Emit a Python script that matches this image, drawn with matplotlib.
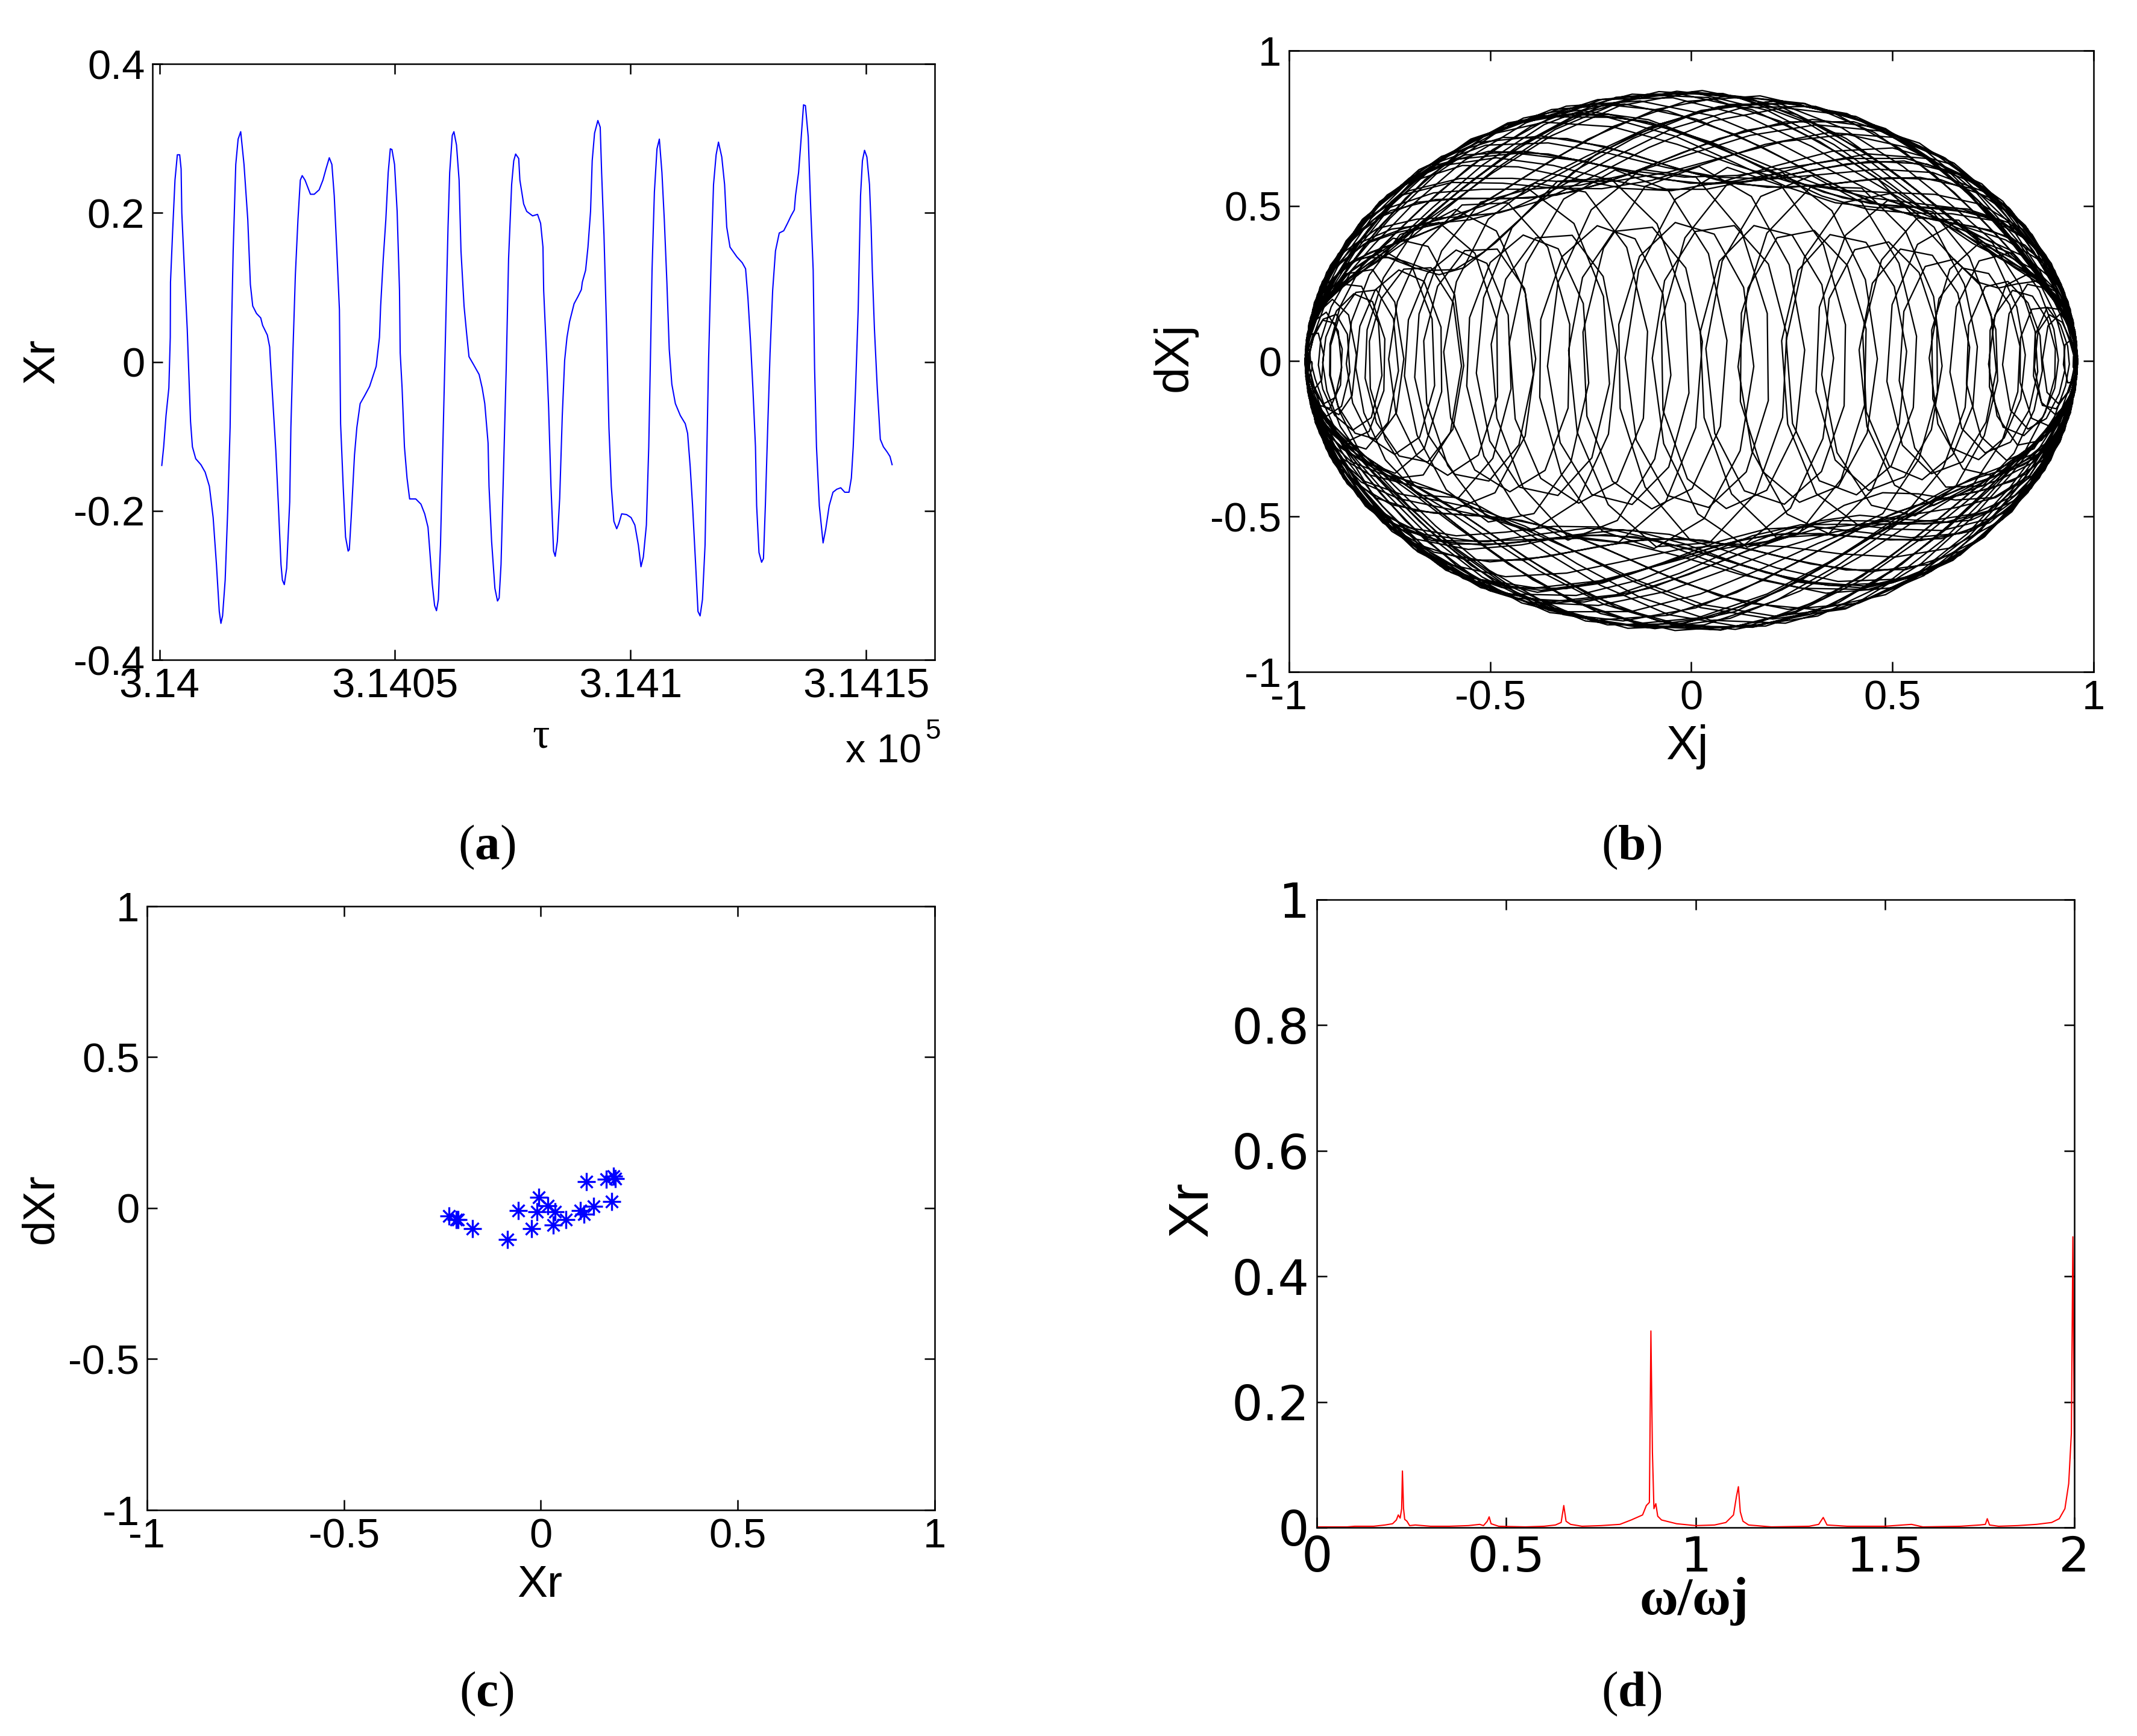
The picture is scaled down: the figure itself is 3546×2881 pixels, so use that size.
import numpy as np
import matplotlib
matplotlib.use('Agg')
import matplotlib.pyplot as plt

plt.rcParams['font.family'] = 'Liberation Sans'
plt.rcParams['mathtext.fontset'] = 'custom'
plt.rcParams['mathtext.rm'] = 'Liberation Serif'
plt.rcParams['mathtext.bf'] = 'Liberation Serif:bold'
plt.rcParams['axes.unicode_minus'] = False

# (a) time series Xr(tau), tau given as offset from 3.14e5
tau_base = 314000
tau_off = [0.5, 0.9, 1.4, 2.0, 2.3, 2.35, 2.8, 3.3, 3.8, 4.3,
           4.6, 4.75, 5.3, 5.9, 6.6, 7.0, 7.7, 8.8, 9.7, 10.6,
           11.4, 12.1, 12.7, 13.05, 13.4, 13.95, 14.5, 15.0, 15.3, 15.65,
           16.2, 16.7, 17.25, 17.95, 18.75, 19.3, 19.8, 20.6, 21.5, 21.9,
           22.9, 23.4, 23.55, 24.1, 24.7, 25.25, 25.8, 26.1, 26.5, 27.0,
           27.65, 27.9, 28.35, 28.85, 29.4, 29.9, 30.3, 30.9, 32.05, 32.85,
           33.9, 34.7, 35.35, 36.05, 36.6, 37.1, 37.65, 38.2, 38.45, 39.0,
           39.5, 40.05, 40.3, 40.7, 41.4, 41.9, 42.6, 43.5, 44.6, 46.0,
           46.7, 46.95, 47.5, 48.05, 48.55, 49.0, 49.35, 49.9, 50.45, 50.95,
           51.1, 51.5, 52.0, 52.55, 53.1, 54.4, 55.5, 56.3, 57.0, 57.35,
           57.9, 58.4, 58.8, 59.2, 59.65, 60.15, 60.7, 61.25, 61.6, 62.15,
           62.5, 63.05, 63.6, 64.0, 64.65, 65.2, 65.7, 66.7, 67.85, 68.5,
           69.05, 69.75, 69.95, 70.5, 71.2, 71.75, 72.1, 72.5, 73.05, 73.6,
           74.1, 74.75, 75.2, 75.6, 76.25, 76.5, 77.3, 77.95, 79.2, 80.25,
           80.9, 81.4, 81.55, 82.1, 82.6, 83.1, 83.65, 84.0, 84.45, 84.95,
           85.5, 86.0, 86.5, 87.05, 88.0, 88.85, 89.55, 89.75, 90.45, 90.95,
           91.5, 91.85, 92.35, 93.05, 93.55, 93.85, 94.35, 94.9, 95.4, 95.9,
           96.45, 97.05, 97.5, 98.1, 99.15, 100.1, 100.9, 101.65, 102.2, 102.7,
           103.35, 103.85, 104.2, 104.55, 105.05, 105.6, 106.1, 106.65, 107.15, 107.7,
           108.2, 108.75, 109.5, 110.55, 111.6, 112.1, 112.65, 113.15, 113.8, 114.3,
           114.75, 115.25, 115.8, 116.2, 116.55, 117.1, 117.6, 118.15, 118.65, 119.35,
           119.95, 120.4, 121.1, 122.55, 123.7, 124.4, 124.9, 125.45, 125.95, 126.5,
           126.75, 127.25, 127.8, 128.2, 128.6, 129.1, 129.6, 130.15, 130.75, 131.55,
           132.5, 133.3, 134.05, 134.75, 135.0, 135.65, 136.15, 136.7, 137.1, 137.7,
           138.25, 138.75, 139.05, 139.45, 140.05, 140.85, 141.4, 142.15, 142.95, 143.75,
           144.6, 145.45, 146.35, 146.85, 147.25, 147.75, 148.3, 148.8, 149.2, 149.65,
           150.15, 150.7, 151.05, 151.3, 151.75, 152.35, 153.0, 153.65, 154.45, 155.05,
           155.5]
xr = [-0.139, -0.114, -0.072, -0.035, 0.033, 0.107, 0.175, 0.244, 0.278, 0.278,
      0.259, 0.2, 0.123, 0.044, -0.08, -0.114, -0.13, -0.138, -0.148, -0.167,
      -0.209, -0.272, -0.335, -0.351, -0.341, -0.293, -0.198, -0.088, 0.044, 0.149,
      0.265, 0.299, 0.309, 0.265, 0.191, 0.104, 0.075, 0.065, 0.059, 0.049,
      0.036, 0.02, 0.002, -0.056, -0.119, -0.193, -0.272, -0.293, -0.299, -0.277,
      -0.188, -0.088, 0.017, 0.117, 0.191, 0.244, 0.25, 0.244, 0.225, 0.225,
      0.231, 0.244, 0.259, 0.274, 0.265, 0.223, 0.149, 0.07, -0.083, -0.167,
      -0.235, -0.254, -0.252, -0.209, -0.125, -0.088, -0.056, -0.046, -0.033, -0.006,
      0.033, 0.075, 0.138, 0.191, 0.254, 0.286, 0.285, 0.265, 0.202, 0.096,
      0.012, -0.035, -0.114, -0.156, -0.184, -0.184, -0.191, -0.204, -0.222, -0.251,
      -0.298, -0.327, -0.334, -0.319, -0.246, -0.114, 0.033, 0.181, 0.254, 0.304,
      0.309, 0.291, 0.244, 0.149, 0.075, 0.038, 0.007, -0.004, -0.017, -0.035,
      -0.056, -0.109, -0.167, -0.241, -0.304, -0.321, -0.317, -0.272, -0.141, -0.009,
      0.138, 0.238, 0.27, 0.279, 0.273, 0.244, 0.212, 0.202, 0.196, 0.198,
      0.186, 0.154, 0.096, 0.017, -0.062, -0.167, -0.254, -0.261, -0.241, -0.183,
      -0.072, 0.002, 0.033, 0.054, 0.078, 0.088, 0.097, 0.107, 0.123, 0.154,
      0.202, 0.27, 0.307, 0.324, 0.315, 0.254, 0.17, 0.044, -0.088, -0.167,
      -0.214, -0.224, -0.217, -0.204, -0.205, -0.209, -0.219, -0.246, -0.275, -0.262,
      -0.219, -0.114, 0.002, 0.123, 0.228, 0.286, 0.299, 0.254, 0.191, 0.107,
      0.017, -0.03, -0.056, -0.072, -0.083, -0.096, -0.141, -0.193, -0.272, -0.335,
      -0.341, -0.319, -0.246, -0.114, 0.002, 0.138, 0.238, 0.278, 0.295, 0.275,
      0.238, 0.181, 0.154, 0.141, 0.133, 0.125, 0.086, 0.028, -0.035, -0.114,
      -0.193, -0.256, -0.269, -0.264, -0.193, -0.088, 0.012, 0.096, 0.149, 0.173,
      0.176, 0.186, 0.196, 0.204, 0.223, 0.254, 0.296, 0.345, 0.344, 0.302,
      0.202, 0.123, -0.009, -0.114, -0.193, -0.243, -0.225, -0.193, -0.175, -0.171,
      -0.169, -0.175, -0.175, -0.156, -0.114, -0.035, 0.07, 0.223, 0.27, 0.284,
      0.275, 0.238, 0.181, 0.123, 0.044, -0.035, -0.104, -0.114, -0.121, -0.127,
      -0.138]

# (b) phase portrait Xj / dXj: angle with slow drift + fast wobble,
# segment parameters (loop spacing, band widths)
xj_amp = 0.96
fast_freq = 2.4
step = 0.22
seg_rate = [0.08, 0.75, 0.085, 0.74, 0.078, 0.76, 0.082, 0.75]
seg_turns = [1, 20, 1, 20, 1, 20, 1, 18]
seg_wobble = [0.24, 0.065, 0.23, 0.07, 0.24, 0.06, 0.23, 0.065]

# (c) Poincare points
xr_pts = [-0.234, -0.215, -0.211, -0.174, -0.085, -0.057, -0.006, -0.010, -0.024, 0.017,
          0.036, 0.032, 0.064, 0.101, 0.110, 0.134, 0.180, 0.115, 0.166, 0.189, 0.184]
dxr_pts = [-0.027, -0.038, -0.038, -0.068, -0.105, -0.008, 0.035, -0.013, -0.069, 0.007,
           -0.013, -0.056, -0.039, -0.008, -0.021, 0.005, 0.022, 0.088, 0.095, 0.098, 0.106]

# (d) spectrum
freq = [0.0, 0.08, 0.1, 0.15, 0.18, 0.2, 0.21, 0.215, 0.22, 0.224,
        0.226, 0.229, 0.232, 0.238, 0.245, 0.26, 0.3, 0.35, 0.4, 0.43,
        0.44, 0.45, 0.455, 0.46, 0.48, 0.55, 0.6, 0.63, 0.645, 0.652,
        0.658, 0.67, 0.7, 0.75, 0.8, 0.83, 0.86, 0.87, 0.878, 0.882,
        0.886, 0.89, 0.895, 0.9, 0.91, 0.95, 1.0, 1.05, 1.08, 1.1,
        1.108, 1.113, 1.118, 1.125, 1.14, 1.2, 1.3, 1.325, 1.337, 1.347,
        1.4, 1.5, 1.57, 1.6, 1.7, 1.75, 1.765, 1.77, 1.776, 1.8,
        1.85, 1.9, 1.94, 1.96, 1.975, 1.985, 1.992, 1.996, 2.0]
amp = [0.001, 0.001, 0.002, 0.002, 0.004, 0.006, 0.012, 0.02, 0.015, 0.03,
       0.09, 0.03, 0.013, 0.01, 0.003, 0.004, 0.002, 0.002, 0.003, 0.005,
       0.003, 0.01, 0.017, 0.006, 0.002, 0.001, 0.002, 0.004, 0.008, 0.035,
       0.01, 0.005, 0.002, 0.003, 0.005, 0.012, 0.02, 0.035, 0.04, 0.313,
       0.12, 0.03, 0.038, 0.018, 0.012, 0.006, 0.003, 0.004, 0.008, 0.02,
       0.05, 0.065, 0.025, 0.01, 0.004, 0.001, 0.002, 0.005, 0.016, 0.004,
       0.002, 0.002, 0.005, 0.001, 0.002, 0.004, 0.005, 0.014, 0.004, 0.002,
       0.003, 0.005, 0.008, 0.014, 0.03, 0.07, 0.15, 0.463, 0.11]

fig = plt.figure(figsize=(3546 / 300, 2881 / 300), dpi=300)


def style(ax, size=16.5, family='Liberation Sans'):
    ax.tick_params(direction='in', top=True, right=True, length=4, width=0.6,
                   labelsize=size, pad=3, labelfontfamily=family)
    for s in ax.spines.values():
        s.set_linewidth(0.6)


# (a)
ax = fig.add_axes([0.0713, 0.6199, 0.3660, 0.3433])
ax.plot(tau_base + np.array(tau_off), xr, color='#0000ff', lw=0.5)
ax.set_xlim(313998.5, 314164.5)
ax.set_ylim(-0.4, 0.4)
ax.set_xticks([314000, 314050, 314100, 314150])
ax.set_xticklabels(['3.14', '3.1405', '3.141', '3.1415'])
ax.set_yticks([-0.4, -0.2, 0, 0.2, 0.4])
ax.set_yticklabels(['-0.4', '-0.2', '0', '0.2', '0.4'])
style(ax)
fig.text(0.0198, 0.792, 'Xr', rotation=90, ha='center', va='center', fontsize=18)
fig.text(0.2532, 0.5754, 'τ', family='Liberation Serif', ha='center', va='center', fontsize=17)
fig.text(0.4311, 0.5667, 'x 10', ha='right', va='center', fontsize=16)
fig.text(0.4365, 0.5787, '5', ha='center', va='center', fontsize=11)

# (b)
n_seg = [int(round(k * np.pi / (r * step))) for k, r in zip(seg_turns, seg_rate)]
rate = np.repeat(seg_rate, n_seg)
wob = np.repeat(seg_wobble, n_seg)
win = np.ones(15) / 15
rate = np.convolve(np.pad(rate, 7, mode='edge'), win, mode='valid')
wob = np.convolve(np.pad(wob, 7, mode='edge'), win, mode='valid')
t = np.arange(len(rate)) * step
phi = -np.pi / 2 + np.cumsum(rate) * step
alpha = phi + wob * np.sin(fast_freq * t)
xj = xj_amp * np.sin(alpha)
dxj = xj_amp * np.cos(alpha) * (rate + wob * fast_freq * np.cos(fast_freq * t))

ax = fig.add_axes([0.6032, 0.6130, 0.3765, 0.3579])
ax.plot(xj, dxj, color='black', lw=0.55)
ax.set_xlim(-1, 1)
ax.set_ylim(-1, 1)
ax.set_xticks([-1, -0.5, 0, 0.5, 1])
ax.set_xticklabels(['-1', '-0.5', '0', '0.5', '1'])
ax.set_yticks([-1, -0.5, 0, 0.5, 1])
ax.set_yticklabels(['-1', '-0.5', '0', '0.5', '1'])
style(ax)
fig.text(0.5497, 0.7943, 'dXj', rotation=90, ha='center', va='center', fontsize=19)
fig.text(0.7895, 0.5699, 'Xj', ha='center', va='center', fontsize=19)

# (c)
ax = fig.add_axes([0.0688, 0.1302, 0.3686, 0.3478])
ax.plot(xr_pts, dxr_pts, ls='none', marker='+', ms=7, mew=0.8, color='#0000ff')
ax.plot(xr_pts, dxr_pts, ls='none', marker='x', ms=5, mew=0.8, color='#0000ff')
ax.set_xlim(-1, 1)
ax.set_ylim(-1, 1)
ax.set_xticks([-1, -0.5, 0, 0.5, 1])
ax.set_xticklabels(['-1', '-0.5', '0', '0.5', '1'])
ax.set_yticks([-1, -0.5, 0, 0.5, 1])
ax.set_yticklabels(['-1', '-0.5', '0', '0.5', '1'])
style(ax)
fig.text(0.0191, 0.3038, 'dXr', rotation=90, ha='center', va='center', fontsize=18)
fig.text(0.2526, 0.0871, 'Xr', ha='center', va='center', fontsize=18)

# (d)
ax = fig.add_axes([0.6162, 0.1201, 0.3545, 0.3617])
ax.plot(freq, amp, color='#ff0000', lw=0.5)
ax.set_xlim(0, 2)
ax.set_ylim(0, 1)
ax.set_xticks([0, 0.5, 1, 1.5, 2])
ax.set_xticklabels(['0', '0.5', '1', '1.5', '2'])
ax.set_yticks([0, 0.2, 0.4, 0.6, 0.8, 1])
ax.set_yticklabels(['0', '0.2', '0.4', '0.6', '0.8', '1'])
style(ax, size=19.5, family='DejaVu Sans')
fig.text(0.558, 0.3038, 'Xr', rotation=90, ha='center', va='center', fontsize=22)
fig.text(0.7927, 0.0775, 'ω/ωj', family='Liberation Serif', weight='bold',
         ha='center', va='center', fontsize=21)

# panel letters
for lab, px, py in [('a', 0.2277, 0.5118), ('b', 0.7634, 0.5118),
                    ('c', 0.2277, 0.0243), ('d', 0.7634, 0.0243)]:
    fig.text(px, py, '($\\mathbf{' + lab + '}$)', family='Liberation Serif',
             ha='center', va='center', fontsize=20)

fig.savefig('out.png', dpi=300)
